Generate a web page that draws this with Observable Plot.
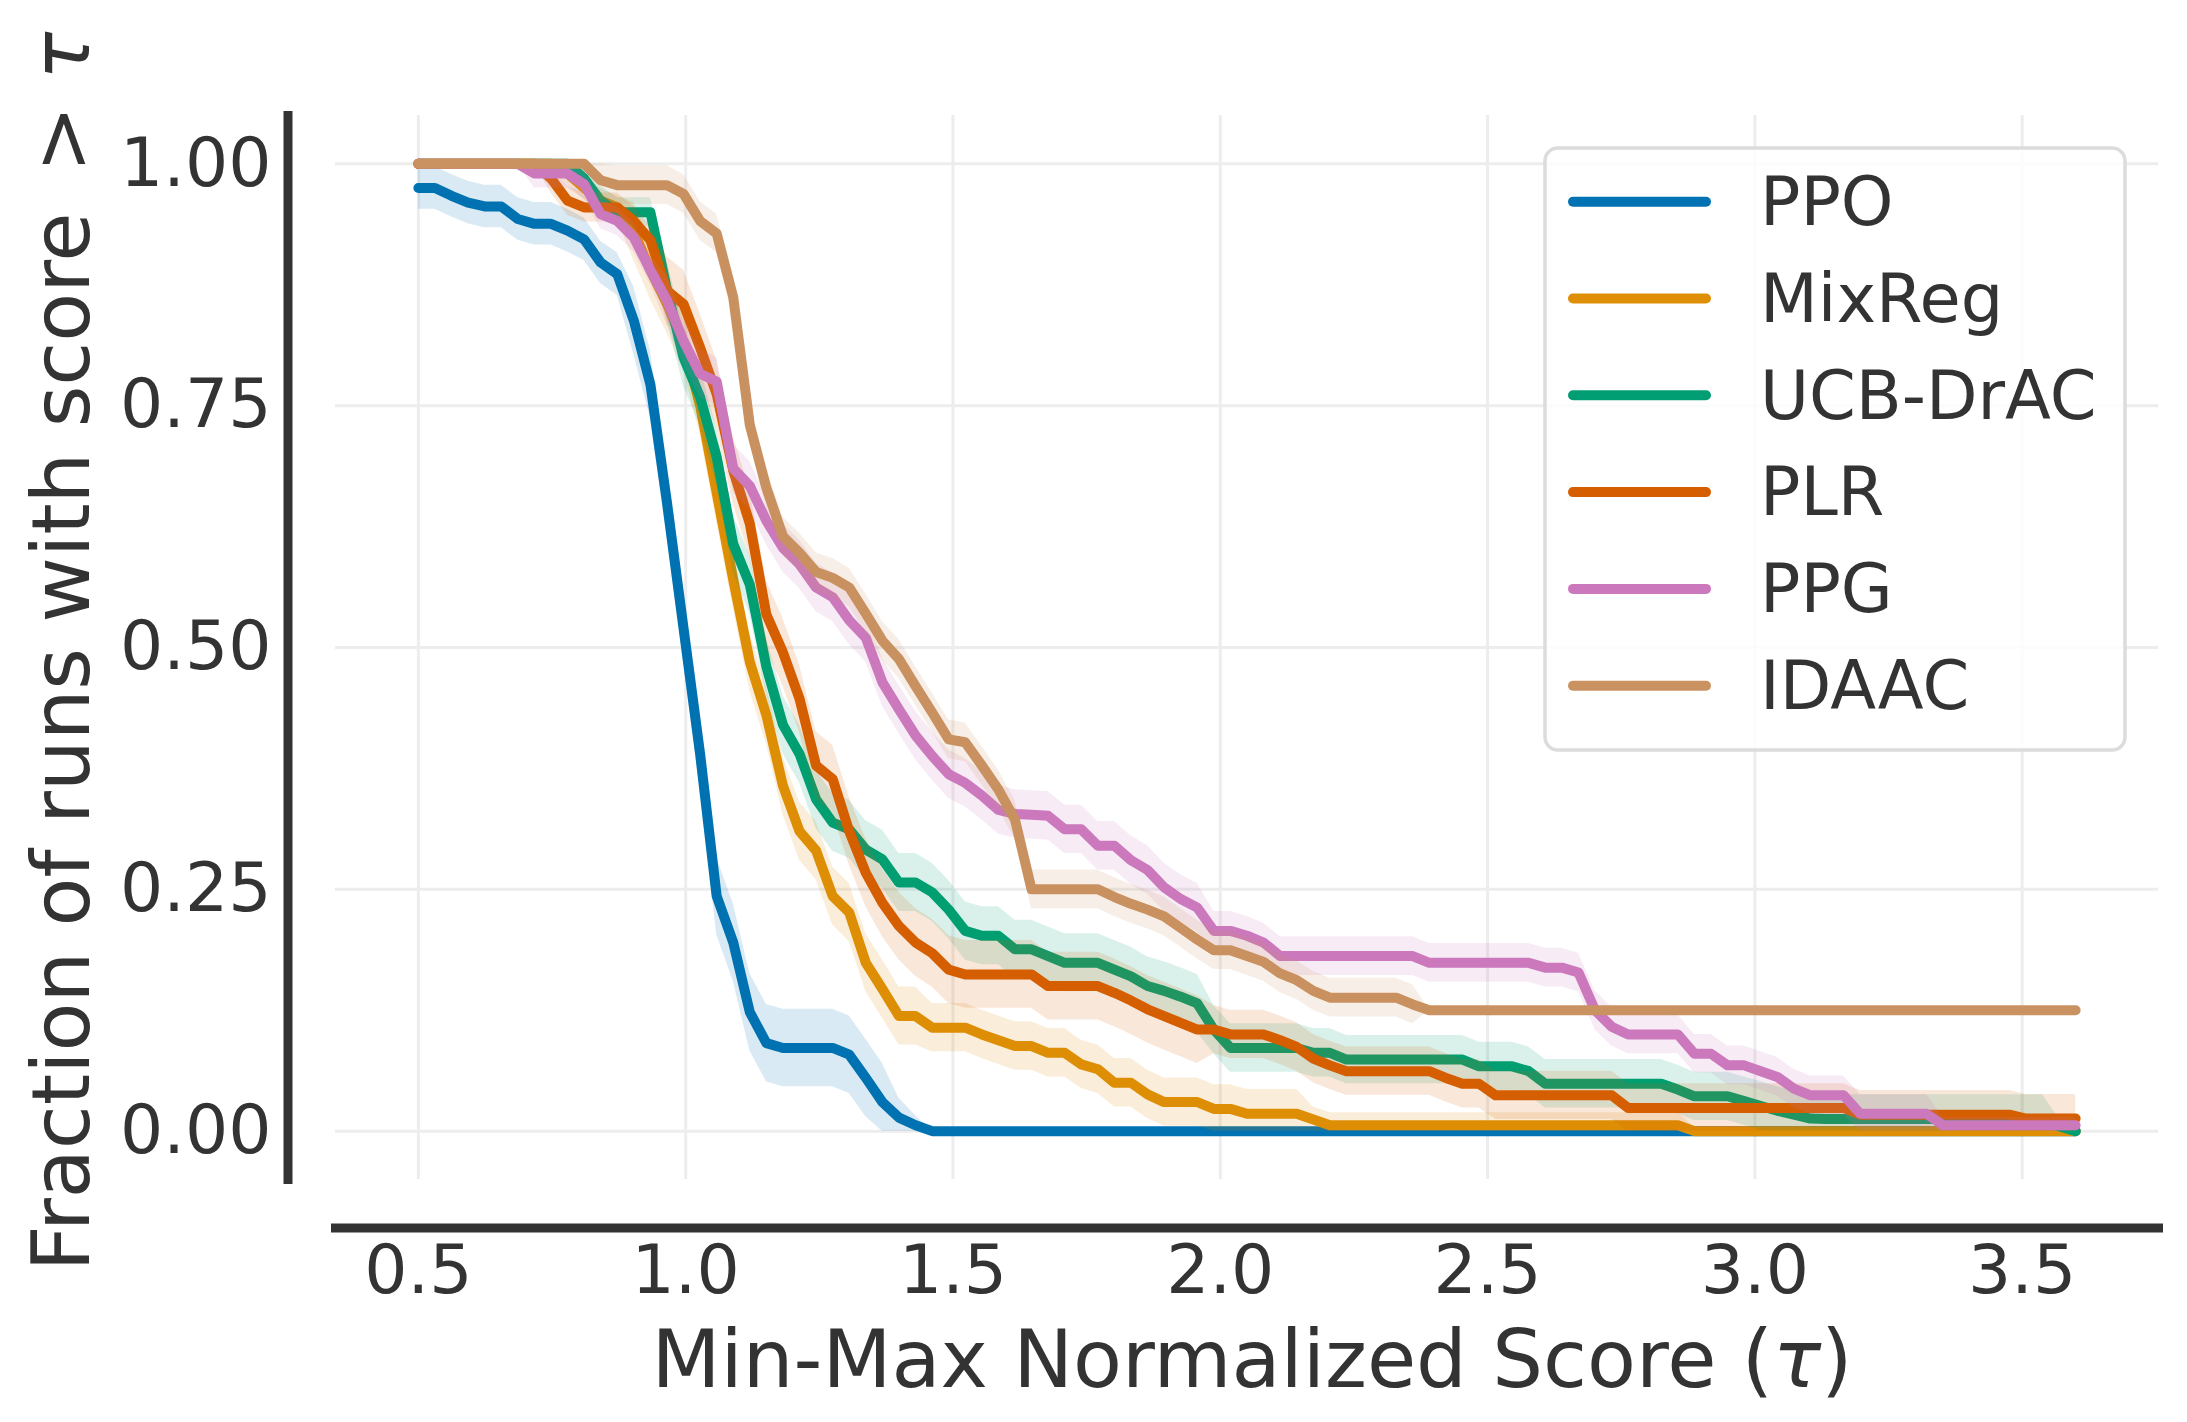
<!DOCTYPE html>
<html>
<head>
<meta charset="utf-8">
<script src="https://cdn.jsdelivr.net/npm/d3@7"></script>
<script src="https://cdn.jsdelivr.net/npm/@observablehq/plot@0.6"></script>
<style>
  html, body { margin: 0; padding: 0; background: #ffffff; }
  #chart { width: 2187px; height: 1422px; }
</style>
</head>
<body>
<div id="chart"></div>
<script>
// ---- data ----
const tau = [
  0.5, 0.531, 0.562, 0.593, 0.624, 0.655, 0.686, 0.717, 0.748, 0.779,
  0.81, 0.841, 0.872, 0.903, 0.934, 0.965, 0.996, 1.027, 1.058, 1.089,
  1.12, 1.151, 1.182, 1.213, 1.244, 1.275, 1.306, 1.337, 1.368, 1.399,
  1.43, 1.461, 1.492, 1.523, 1.554, 1.585, 1.616, 1.647, 1.678, 1.709,
  1.74, 1.771, 1.802, 1.833, 1.864, 1.895, 1.926, 1.957, 1.988, 2.019,
  2.05, 2.081, 2.112, 2.143, 2.174, 2.205, 2.236, 2.267, 2.298, 2.329,
  2.36, 2.391, 2.422, 2.453, 2.484, 2.515, 2.546, 2.577, 2.608, 2.639,
  2.67, 2.701, 2.732, 2.763, 2.794, 2.825, 2.856, 2.887, 2.918, 2.949,
  2.98, 3.011, 3.042, 3.073, 3.104, 3.135, 3.166, 3.197, 3.228, 3.259,
  3.29, 3.321, 3.352, 3.383, 3.414, 3.445, 3.476, 3.507, 3.538, 3.569,
  3.6
];

const algorithms = ["PPO", "MixReg", "UCB-DrAC", "PLR", "PPG", "IDAAC"];
const colors = ["#0173b2", "#de8f05", "#029e73", "#d55e00", "#cc78bc", "#ca9161"];

const ppo = [
  0.975, 0.975, 0.967, 0.960, 0.956, 0.956, 0.943, 0.938, 0.938, 0.931,
  0.922, 0.898, 0.886, 0.838, 0.772, 0.650, 0.520, 0.390, 0.243, 0.195,
  0.123, 0.091, 0.086, 0.086, 0.086, 0.086, 0.079, 0.055, 0.030, 0.014,
  0.006, 0, 0, 0, 0, 0, 0, 0, 0, 0,
  0, 0, 0, 0, 0, 0, 0, 0, 0, 0,
  0, 0, 0, 0, 0, 0, 0, 0, 0, 0,
  0, 0, 0, 0, 0, 0, 0, 0, 0, 0,
  0, 0, 0, 0, 0, 0, 0, 0, 0, 0,
  0, 0, 0, 0, 0, 0, 0, 0, 0, 0,
  0, 0, 0, 0, 0, 0, 0, 0, 0, 0,
  0
];
const mixreg = [
  1, 1, 1, 1, 1, 1, 1, 1, 1, 0.990,
  0.975, 0.962, 0.955, 0.930, 0.890, 0.855, 0.815, 0.750, 0.660, 0.570,
  0.485, 0.430, 0.357, 0.310, 0.290, 0.243, 0.226, 0.174, 0.147, 0.119,
  0.119, 0.107, 0.107, 0.107, 0.100, 0.094, 0.088, 0.088, 0.081, 0.081,
  0.069, 0.064, 0.050, 0.050, 0.038, 0.030, 0.030, 0.030, 0.023, 0.023,
  0.018, 0.018, 0.018, 0.018, 0.012, 0.006, 0.006, 0.006, 0.006, 0.006,
  0.006, 0.006, 0.006, 0.006, 0.006, 0.006, 0.006, 0.006, 0.006, 0.006,
  0.006, 0.006, 0.006, 0.006, 0.006, 0.006, 0.006, 0, 0, 0,
  0, 0, 0, 0, 0, 0, 0, 0, 0, 0,
  0, 0, 0, 0, 0, 0, 0, 0, 0, 0,
  0
];
const ucbDrac = [
  1, 1, 1, 1, 1, 1, 1, 1, 1, 1,
  0.985, 0.962, 0.950, 0.950, 0.950, 0.870, 0.800, 0.759, 0.697, 0.607,
  0.565, 0.480, 0.420, 0.390, 0.343, 0.319, 0.312, 0.291, 0.281, 0.257,
  0.257, 0.247, 0.229, 0.207, 0.202, 0.202, 0.188, 0.188, 0.181, 0.174,
  0.174, 0.174, 0.167, 0.160, 0.150, 0.145, 0.139, 0.132, 0.105, 0.086,
  0.086, 0.086, 0.086, 0.086, 0.081, 0.081, 0.074, 0.074, 0.074, 0.074,
  0.074, 0.074, 0.074, 0.074, 0.067, 0.067, 0.067, 0.062, 0.049, 0.049,
  0.049, 0.049, 0.049, 0.049, 0.049, 0.049, 0.043, 0.036, 0.036, 0.036,
  0.031, 0.026, 0.021, 0.017, 0.013, 0.0125, 0.0125, 0.0125, 0.0125, 0.0125,
  0.0125, 0.0125, 0.0125, 0.0125, 0.0125, 0.0125, 0.0125, 0.0125, 0.0125, 0.005,
  0
];
const plr = [
  1, 1, 1, 1, 1, 1, 1, 1, 0.985, 0.962,
  0.955, 0.955, 0.955, 0.941, 0.921, 0.869, 0.855, 0.810, 0.762, 0.683,
  0.628, 0.534, 0.495, 0.447, 0.378, 0.364, 0.310, 0.267, 0.236, 0.212,
  0.195, 0.184, 0.167, 0.162, 0.162, 0.162, 0.162, 0.162, 0.150, 0.150,
  0.150, 0.150, 0.143, 0.135, 0.126, 0.119, 0.112, 0.105, 0.105, 0.100,
  0.100, 0.100, 0.094, 0.087, 0.075, 0.068, 0.062, 0.062, 0.062, 0.062,
  0.062, 0.062, 0.055, 0.049, 0.049, 0.037, 0.037, 0.037, 0.037, 0.037,
  0.037, 0.037, 0.037, 0.024, 0.024, 0.024, 0.024, 0.024, 0.024, 0.024,
  0.024, 0.024, 0.024, 0.024, 0.024, 0.024, 0.024, 0.017, 0.017, 0.017,
  0.017, 0.017, 0.017, 0.017, 0.017, 0.017, 0.017, 0.013, 0.013, 0.013,
  0.013
];
const ppg = [
  1, 1, 1, 1, 1, 1, 1, 0.990, 0.990, 0.990,
  0.979, 0.948, 0.941, 0.924, 0.890, 0.859, 0.817, 0.783, 0.775, 0.685,
  0.667, 0.631, 0.603, 0.586, 0.562, 0.552, 0.528, 0.510, 0.464, 0.436,
  0.409, 0.388, 0.369, 0.360, 0.347, 0.332, 0.328, 0.327, 0.326, 0.312,
  0.312, 0.295, 0.295, 0.280, 0.270, 0.252, 0.240, 0.231, 0.207, 0.207,
  0.202, 0.195, 0.181, 0.181, 0.181, 0.181, 0.181, 0.181, 0.181, 0.181,
  0.181, 0.174, 0.174, 0.174, 0.174, 0.174, 0.174, 0.174, 0.169, 0.169,
  0.164, 0.125, 0.108, 0.100, 0.100, 0.100, 0.100, 0.080, 0.080, 0.068,
  0.068, 0.062, 0.056, 0.044, 0.037, 0.037, 0.037, 0.018, 0.018, 0.018,
  0.018, 0.018, 0.006, 0.006, 0.006, 0.006, 0.006, 0.006, 0.006, 0.006,
  0.006
];
const idaac = [
  1, 1, 1, 1, 1, 1, 1, 1, 1, 1,
  1, 0.983, 0.978, 0.978, 0.978, 0.978, 0.969, 0.941, 0.928, 0.862,
  0.730, 0.665, 0.615, 0.598, 0.578, 0.572, 0.562, 0.535, 0.507, 0.488,
  0.460, 0.433, 0.405, 0.402, 0.378, 0.353, 0.322, 0.250, 0.250, 0.250,
  0.250, 0.250, 0.242, 0.235, 0.229, 0.222, 0.210, 0.198, 0.187, 0.187,
  0.181, 0.175, 0.163, 0.156, 0.145, 0.138, 0.138, 0.138, 0.138, 0.138,
  0.131, 0.125, 0.125, 0.125, 0.125, 0.125, 0.125, 0.125, 0.125, 0.125,
  0.125, 0.125, 0.125, 0.125, 0.125, 0.125, 0.125, 0.125, 0.125, 0.125,
  0.125, 0.125, 0.125, 0.125, 0.125, 0.125, 0.125, 0.125, 0.125, 0.125,
  0.125, 0.125, 0.125, 0.125, 0.125, 0.125, 0.125, 0.125, 0.125, 0.125,
  0.125
];

// half-widths of the shaded confidence bands
const ciPpo = [
  0.022, 0.022, 0.022, 0.022, 0.022, 0.022, 0.022, 0.022, 0.022, 0.022,
  0.022, 0.022, 0.022, 0.035, 0.035, 0.035, 0.035, 0.035, 0.040, 0.040,
  0.040, 0.040, 0.040, 0.040, 0.040, 0.040, 0.040, 0.040, 0.040, 0.020,
  0.010, 0, 0, 0, 0, 0, 0, 0, 0, 0,
  0, 0, 0, 0, 0, 0, 0, 0, 0, 0,
  0, 0, 0, 0, 0, 0, 0, 0, 0, 0,
  0, 0, 0, 0, 0, 0, 0, 0, 0, 0,
  0, 0, 0, 0, 0, 0, 0, 0, 0, 0,
  0, 0, 0, 0, 0, 0, 0, 0, 0, 0,
  0, 0, 0, 0, 0, 0, 0, 0, 0, 0,
  0
];
const ciMixreg = [
  0, 0, 0, 0, 0, 0, 0, 0, 0, 0.012,
  0.012, 0.012, 0.012, 0.030, 0.030, 0.030, 0.030, 0.030, 0.030, 0.030,
  0.030, 0.030, 0.030, 0.030, 0.030, 0.030, 0.030, 0.030, 0.030, 0.030,
  0.030, 0.025, 0.025, 0.025, 0.025, 0.025, 0.025, 0.025, 0.025, 0.025,
  0.025, 0.025, 0.025, 0.025, 0.025, 0.025, 0.025, 0.025, 0.025, 0.025,
  0.025, 0.025, 0.025, 0.025, 0.013, 0.013, 0.013, 0.013, 0.013, 0.013,
  0.013, 0.013, 0.013, 0.013, 0.013, 0.013, 0.013, 0.013, 0.013, 0.013,
  0.013, 0.013, 0.013, 0.013, 0.013, 0.013, 0.013, 0.004, 0.004, 0.004,
  0.004, 0.004, 0.004, 0.004, 0.004, 0.004, 0.004, 0.004, 0.004, 0.004,
  0.004, 0.004, 0.004, 0.004, 0.004, 0.004, 0.004, 0.004, 0.004, 0.004,
  0.004
];
const ciUcbDrac = [
  0, 0, 0, 0, 0, 0, 0, 0, 0, 0,
  0.015, 0.015, 0.015, 0.015, 0.015, 0.030, 0.030, 0.030, 0.030, 0.030,
  0.030, 0.030, 0.030, 0.030, 0.030, 0.030, 0.030, 0.030, 0.030, 0.030,
  0.030, 0.030, 0.030, 0.030, 0.030, 0.030, 0.030, 0.030, 0.030, 0.030,
  0.030, 0.030, 0.030, 0.030, 0.030, 0.030, 0.030, 0.030, 0.025, 0.025,
  0.025, 0.025, 0.025, 0.025, 0.025, 0.025, 0.025, 0.025, 0.025, 0.025,
  0.025, 0.025, 0.025, 0.025, 0.025, 0.025, 0.025, 0.025, 0.025, 0.025,
  0.025, 0.025, 0.025, 0.025, 0.025, 0.025, 0.025, 0.025, 0.025, 0.025,
  0.025, 0.025, 0.025, 0.025, 0.025, 0.025, 0.025, 0.025, 0.025, 0.025,
  0.025, 0.025, 0.025, 0.025, 0.025, 0.025, 0.025, 0.025, 0.025, 0.008,
  0.008
];
const ciPlr = [
  0, 0, 0, 0, 0, 0, 0, 0, 0.015, 0.015,
  0.015, 0.015, 0.015, 0.015, 0.015, 0.035, 0.035, 0.035, 0.035, 0.035,
  0.035, 0.035, 0.035, 0.035, 0.035, 0.035, 0.035, 0.035, 0.035, 0.035,
  0.035, 0.035, 0.035, 0.035, 0.035, 0.035, 0.035, 0.035, 0.035, 0.035,
  0.035, 0.035, 0.035, 0.035, 0.035, 0.035, 0.035, 0.035, 0.025, 0.025,
  0.025, 0.025, 0.025, 0.025, 0.025, 0.025, 0.025, 0.025, 0.025, 0.025,
  0.025, 0.025, 0.025, 0.025, 0.025, 0.025, 0.025, 0.025, 0.025, 0.025,
  0.025, 0.025, 0.025, 0.025, 0.025, 0.025, 0.025, 0.025, 0.025, 0.025,
  0.025, 0.025, 0.025, 0.025, 0.025, 0.025, 0.025, 0.025, 0.025, 0.025,
  0.025, 0.025, 0.025, 0.025, 0.025, 0.025, 0.025, 0.025, 0.025, 0.025,
  0.025
];
const ciPpg = [
  0, 0, 0, 0, 0, 0, 0, 0.015, 0.015, 0.015,
  0.015, 0.015, 0.015, 0.015, 0.015, 0.025, 0.025, 0.025, 0.025, 0.025,
  0.025, 0.025, 0.025, 0.025, 0.025, 0.025, 0.025, 0.025, 0.025, 0.025,
  0.025, 0.025, 0.025, 0.025, 0.025, 0.025, 0.025, 0.025, 0.025, 0.025,
  0.025, 0.025, 0.025, 0.025, 0.025, 0.025, 0.025, 0.025, 0.020, 0.020,
  0.020, 0.020, 0.020, 0.020, 0.020, 0.020, 0.020, 0.020, 0.020, 0.020,
  0.020, 0.020, 0.020, 0.020, 0.020, 0.020, 0.020, 0.020, 0.020, 0.020,
  0.020, 0.020, 0.020, 0.020, 0.020, 0.020, 0.020, 0.020, 0.020, 0.020,
  0.020, 0.020, 0.020, 0.020, 0.020, 0.020, 0.020, 0.020, 0.020, 0.020,
  0.020, 0.020, 0.008, 0.008, 0.008, 0.008, 0.008, 0.008, 0.008, 0.008,
  0.008
];
const ciIdaac = [
  0, 0, 0, 0, 0, 0, 0, 0, 0, 0,
  0, 0.020, 0.020, 0.020, 0.020, 0.020, 0.020, 0.020, 0.020, 0.020,
  0.020, 0.020, 0.020, 0.020, 0.020, 0.020, 0.020, 0.020, 0.020, 0.020,
  0.020, 0.020, 0.020, 0.020, 0.020, 0.020, 0.020, 0.020, 0.020, 0.020,
  0.020, 0.020, 0.020, 0.020, 0.020, 0.020, 0.020, 0.020, 0.020, 0.020,
  0.020, 0.020, 0.020, 0.020, 0.020, 0.020, 0.020, 0.020, 0.020, 0.020,
  0.020, 0, 0, 0, 0, 0, 0, 0, 0, 0,
  0, 0, 0, 0, 0, 0, 0, 0, 0, 0,
  0, 0, 0, 0, 0, 0, 0, 0, 0, 0,
  0, 0, 0, 0, 0, 0, 0, 0, 0, 0,
  0
];

const xTicks = [0.5, 1.0, 1.5, 2.0, 2.5, 3.0, 3.5];
const yTicks = [0, 0.25, 0.5, 0.75, 1.0];
const xLabel = "Min-Max Normalized Score (\u03C4)";
const yLabel = "Fraction of runs with score\u2002> \u03C4";

// ---- build table ----
const seriesValues = [ppo, mixreg, ucbDrac, plr, ppg, idaac];
const seriesCI = [ciPpo, ciMixreg, ciUcbDrac, ciPlr, ciPpg, ciIdaac];
const rows = algorithms.flatMap((name, k) =>
  tau.map((t, i) => {
    const v = seriesValues[k][i], c = seriesCI[k][i];
    return {name, tau: t, value: v, lo: Math.max(0, v - c), hi: Math.min(1, v + c)};
  })
);

const FONT = "'DejaVu Sans', 'Liberation Sans', sans-serif";
const INK = "#333333";
const LW = 10;

const seriesMarks = algorithms.flatMap(name => {
  const d = rows.filter(r => r.name === name);
  return [
    Plot.line(d, {x: "tau", y: "value", stroke: "name", strokeWidth: LW,
                  strokeLinecap: "round", strokeLinejoin: "round"}),
    Plot.areaY(d, {x: "tau", y1: "lo", y2: "hi", fill: "name", fillOpacity: 0.15})
  ];
});

const plot = Plot.plot({
  width: 2187,
  height: 1422,
  marginLeft: 335,
  marginRight: 29,
  marginTop: 115,
  marginBottom: 243,
  style: {fontFamily: FONT, fontSize: "68px", color: INK, background: "#ffffff", overflow: "visible"},
  x: {domain: [0.345, 3.755]},
  y: {domain: [-0.05, 1.05]},
  color: {domain: algorithms, range: colors},
  marks: [
    Plot.gridX(xTicks, {stroke: "#ededed", strokeOpacity: 1, strokeWidth: 3}),
    Plot.gridY(yTicks, {stroke: "#ededed", strokeOpacity: 1, strokeWidth: 3}),
    ...seriesMarks,
    Plot.frame({anchor: "left", dx: -47.5, stroke: INK, strokeWidth: 9, strokeLinecap: "square"}),
    Plot.frame({anchor: "bottom", dy: 48.6, stroke: INK, strokeWidth: 9, strokeLinecap: "square"}),
    Plot.axisX(xTicks, {tickSize: 0, tickPadding: 65, fontSize: 68, fill: INK,
                        tickFormat: d3.format(".1f"), label: null}),
    Plot.axisY(yTicks, {tickSize: 0, tickPadding: 64, fontSize: 68, fill: INK,
                        tickFormat: d3.format(".2f"), label: null}),
    Plot.text([xLabel], {text: d => d, frameAnchor: "bottom", textAnchor: "middle", lineAnchor: "middle",
                         dy: 182, dx: 5, fontSize: 80, fill: INK}),
    Plot.text([yLabel], {text: d => d, frameAnchor: "left", textAnchor: "middle", lineAnchor: "middle",
                         rotate: -90, dx: -272.6, dy: 4, fontSize: 80, fill: INK})
  ]
});

// ---- render the τ of the axis labels in italic (math style) ----
const svg = d3.select(plot);
svg.selectAll("text").each(function () {
  const node = d3.select(this);
  if (node.selectAll("tspan").size() > 0) return;
  const s = node.text();
  if (!s.includes("\u03C4") || s.length < 5) return;
  const parts = s.split("\u03C4");
  node.text(null);
  parts.forEach((p, j) => {
    if (p) node.append("tspan").text(p);
    if (j < parts.length - 1) node.append("tspan").attr("font-style", "italic").text("\u03C4");
  });
});

// ---- legend (upper right, inside the axes) ----
const lg = svg.append("g").attr("font-family", FONT).attr("text-anchor", "start");
lg.append("rect")
  .attr("x", 1545).attr("y", 148).attr("width", 580).attr("height", 602)
  .attr("rx", 13).attr("ry", 13)
  .attr("fill", "#ffffff").attr("fill-opacity", 0.8)
  .attr("stroke", "#dcdcdc").attr("stroke-width", 3.5);
algorithms.forEach((name, k) => {
  const cy = 201.7 + 96.8 * k;
  lg.append("line")
    .attr("x1", 1573).attr("x2", 1706).attr("y1", cy).attr("y2", cy)
    .attr("stroke", colors[k]).attr("stroke-width", LW).attr("stroke-linecap", "round");
  lg.append("text")
    .attr("x", 1760).attr("y", cy + 23.3)
    .attr("text-anchor", "start")
    .attr("font-size", 67).attr("fill", INK)
    .text(name);
});

document.getElementById("chart").appendChild(plot);
</script>
</body>
</html>
